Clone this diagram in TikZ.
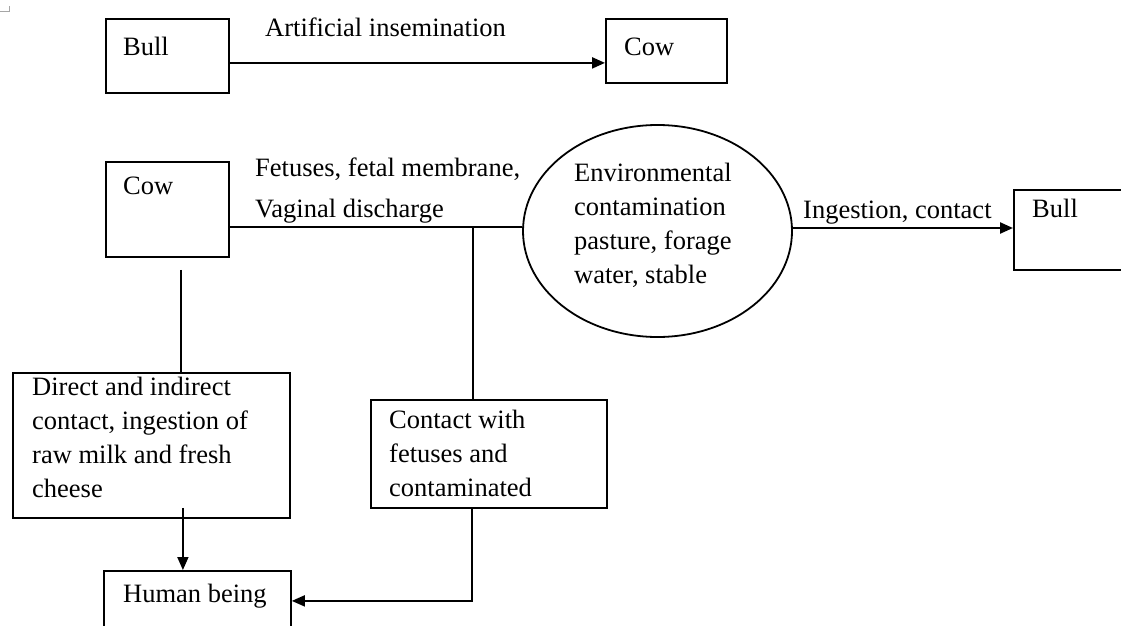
\documentclass[tikz,border=0pt]{standalone}
\usepackage{fontspec}
\setmainfont{Liberation Serif}
\usetikzlibrary{arrows.meta,shapes.geometric}
\begin{document}
\begin{tikzpicture}[x=1pt,y=-1pt,
	box/.style={draw, line width=1.8pt, anchor=north west, inner sep=0pt},
	txt/.style={anchor=base west, inner sep=0pt, align=left, font=\fontsize{26.5}{34}\selectfont},
	link/.style={line width=1.8pt},
	tip/.style={-{Triangle[length=13pt,width=11pt]}},
	arrow/.style={line width=2.3pt, tip}]
	\useasboundingbox (0,0) rectangle (1121,626);
	\clip (0,0) rectangle (1121,626);
	% corner mark
	\draw [gray!70, line width=1pt] (0,12) -- (9,12) -- (9,6);
	% Boxes
	\node [box, minimum width=123, minimum height=74] (bullA) at (105,18) {};
	\node [box, minimum width=121, minimum height=64] (cowA) at (605,18) {};
	\node [box, minimum width=123, minimum height=95] (cowB) at (105,161) {};
	\node [draw, ellipse, line width=1.8pt, minimum width=269, minimum height=212, inner sep=0pt] (env) at (657.5,231) {};
	\node [box, minimum width=130, minimum height=80] (bullB) at (1013,189) {};
	\node [box, minimum width=277, minimum height=145] (dir) at (12,372) {};
	\node [box, minimum width=236, minimum height=108] (cont) at (370,399) {};
	\node [box, minimum width=187, minimum height=60] (hum) at (103,570) {};
	% Texts (base = last line)
	\node [txt] (bullAtext) at (123,56) {Bull};
	\node [txt] (cowAtext) at (624,56) {Cow};
	\node [txt] (cowBtext) at (123,194) {Cow};
	\node [txt] (bullBtext) at (1032,217) {Bull};
	\node [txt] (humtext) at (123,602) {Human being};
	\node [txt] (envtext) at (574,283) {Environmental\\contamination\\pasture, forage\\water, stable};
	\node [txt] (dirtext) at (32,497) {Direct and indirect\\contact, ingestion of\\raw milk and fresh\\cheese};
	\node [txt] (conttext) at (389,496) {Contact with\\fetuses and\\contaminated};
	\node [txt] (ailabel) at (265,37) {Artificial insemination};
	\node [txt] (fetlabel) at (255,176) {Fetuses, fetal membrane,};
	\node [txt] (vaglabel) at (255,217) {Vaginal discharge};
	\node [txt] (inglabel) at (803,218) {Ingestion, contact};
	% Connectors
	\draw [arrow] ([yshift=-7pt]bullA.east) -- ([yshift=-7pt]bullA.east -| cowA.west);
	\draw [link] ([yshift=-17.5pt]cowB.east) -- ([yshift=-17.5pt]cowB.east -| env.west);
	\coordinate (split) at (473,226);
	\draw [link] (split) -- (split |- cont.north);
	\draw [arrow] ([yshift=3pt]env.east) -- ([yshift=3pt]env.east -| bullB.west);
	\draw [link] ([xshift=13.5pt,yshift=-12pt]cowB.south) -- ([xshift=13.5pt]cowB.south |- dir.north);
	\draw [link, tip] ([xshift=31.5pt,yshift=11pt]dir.south) -- ([xshift=31.5pt]dir.south |- hum.north);
	\draw [link, tip] ([xshift=-17pt]cont.south) |- (hum.east);
\end{tikzpicture}
\end{document}
